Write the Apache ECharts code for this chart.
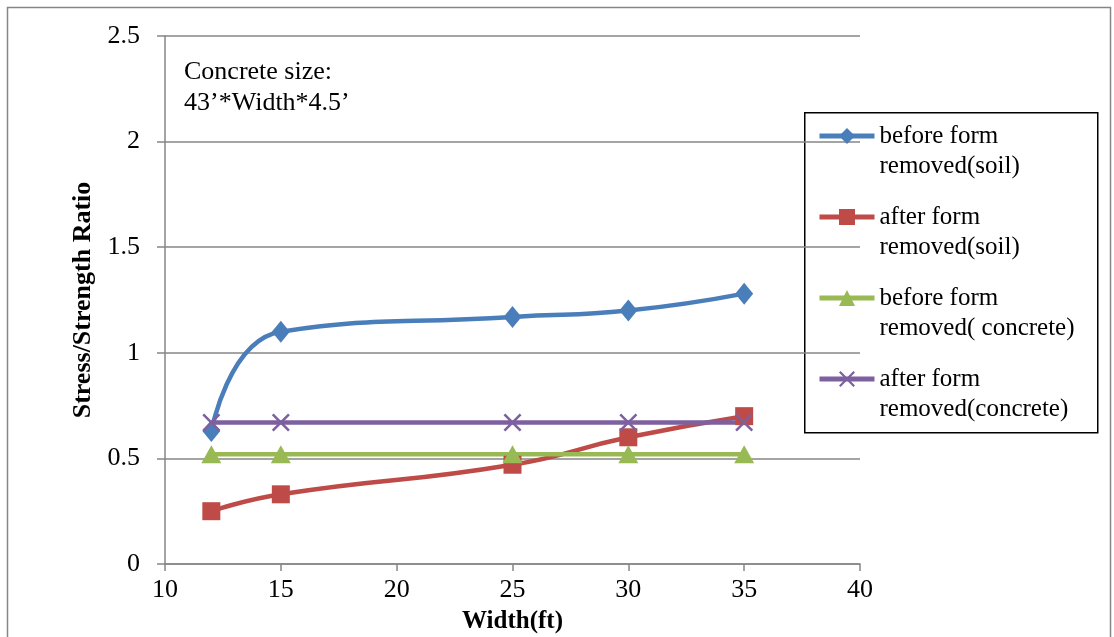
<!DOCTYPE html>
<html>
<head>
<meta charset="utf-8">
<script src="https://cdn.jsdelivr.net/npm/echarts@6/dist/echarts.min.js"></script>
<style>
  html, body { margin: 0; padding: 0; background: #fff; }
  #chart { width: 1114px; height: 637px; }
</style>
</head>
<body>
<div id="chart"></div>
<script>
// Stress/strength ratio against slab width
const widths = [12, 15, 25, 30, 35];
const beforeSoil = [0.63, 1.10, 1.17, 1.20, 1.28];
const afterSoil = [0.25, 0.33, 0.47, 0.60, 0.70];
const beforeConcrete = [0.52, 0.52, 0.52, 0.52, 0.52];
const afterConcrete = [0.67, 0.67, 0.67, 0.67, 0.67];

const seriesNames = [
  'before form\nremoved(soil)',
  'after form\nremoved(soil)',
  'before form\nremoved( concrete)',
  'after form\nremoved(concrete)'
];

const FONT = '"Liberation Serif", "Times New Roman", serif';
const GRID_GREY = '#868686';
const crossPath = 'path://M0,1L1,0L5,4L9,0L10,1L6,5L10,9L9,10L5,6L1,10L0,9L4,5Z';

const pairs = arr => widths.map((w, i) => [w, arr[i]]);

const chart = echarts.init(document.getElementById('chart'), null, { renderer: 'canvas' });

chart.setOption({
  backgroundColor: '#fff',
  animation: false,
  textStyle: { fontFamily: FONT },
  grid: { left: 165, right: 254, top: 36, bottom: 73, containLabel: false, outerBoundsMode: 'none' },
  xAxis: {
    type: 'value',
    min: 10, max: 40, interval: 5,
    name: 'Width(ft)',
    nameLocation: 'middle',
    nameGap: 45,
    nameTextStyle: { fontFamily: FONT, fontSize: 25, fontWeight: 'bold', color: '#000' },
    axisLine: { show: true, lineStyle: { color: GRID_GREY, width: 1.5 } },
    axisTick: { show: true, length: 7, lineStyle: { color: GRID_GREY, width: 1.5 } },
    axisLabel: { fontFamily: FONT, fontSize: 26, color: '#000', margin: 13 },
    splitLine: { show: false }
  },
  yAxis: {
    type: 'value',
    min: 0, max: 2.5, interval: 0.5,
    name: 'Stress/Strength Ratio',
    nameLocation: 'middle',
    nameGap: 61,
    nameTextStyle: { fontFamily: FONT, fontSize: 26, fontWeight: 'bold', color: '#000' },
    axisLine: { show: true, lineStyle: { color: GRID_GREY, width: 1.5 } },
    axisTick: { show: true, inside: false, length: 8, lineStyle: { color: GRID_GREY, width: 1.5 } },
    axisLabel: { fontFamily: FONT, fontSize: 26, color: '#000', margin: 25 },
    splitLine: { show: true, lineStyle: { color: GRID_GREY, width: 1.5 } }
  },
  legend: {
    orient: 'vertical',
    left: 817,
    top: 91,
    padding: 0,
    itemWidth: 55,
    itemHeight: 20,
    itemGap: -9,
    data: seriesNames,
    formatter: name => ' \n' + name,
    textStyle: { fontFamily: FONT, fontSize: 25, color: '#000', lineHeight: 30 },
    lineStyle: { width: 5 },
    itemStyle: { borderWidth: 0 }
  },
  graphic: [
    // outer chart frame
    { type: 'rect', left: 5, top: 5, shape: { width: 1103, height: 640 },
      style: { fill: 'none', stroke: GRID_GREY, lineWidth: 1.5 }, silent: true, z: -10 },
    // legend box
    { type: 'rect', left: 804, top: 112, shape: { width: 293, height: 320 },
      style: { fill: '#fff', stroke: '#000', lineWidth: 1.5 }, silent: true, z: 0 },
    // annotation
    { type: 'text', left: 184, top: 57,
      style: { text: 'Concrete size:\n43\u2019*Width*4.5\u2019', font: '26px ' + FONT, fill: '#000', lineHeight: 31 },
      z: 10 }
  ],
  series: [
    {
      name: seriesNames[0], type: 'line', smooth: 0.5,
      data: pairs(beforeSoil),
      symbol: 'diamond', symbolSize: [18, 22],
      lineStyle: { color: '#4a7ebb', width: 4.5 },
      itemStyle: { color: '#4a7ebb' }
    },
    {
      name: seriesNames[1], type: 'line', smooth: 0.5,
      data: pairs(afterSoil),
      symbol: 'rect', symbolSize: 18,
      lineStyle: { color: '#be4b48', width: 4.5 },
      itemStyle: { color: '#be4b48' }
    },
    {
      name: seriesNames[2], type: 'line',
      data: pairs(beforeConcrete),
      symbol: 'triangle', symbolSize: [20, 18],
      lineStyle: { color: '#98b954', width: 4.5 },
      itemStyle: { color: '#98b954' }
    },
    {
      name: seriesNames[3], type: 'line',
      data: pairs(afterConcrete),
      symbol: crossPath, symbolSize: 18,
      lineStyle: { color: '#7d60a0', width: 4.5 },
      itemStyle: { color: '#7d60a0' }
    }
  ]
});
</script>
</body>
</html>
